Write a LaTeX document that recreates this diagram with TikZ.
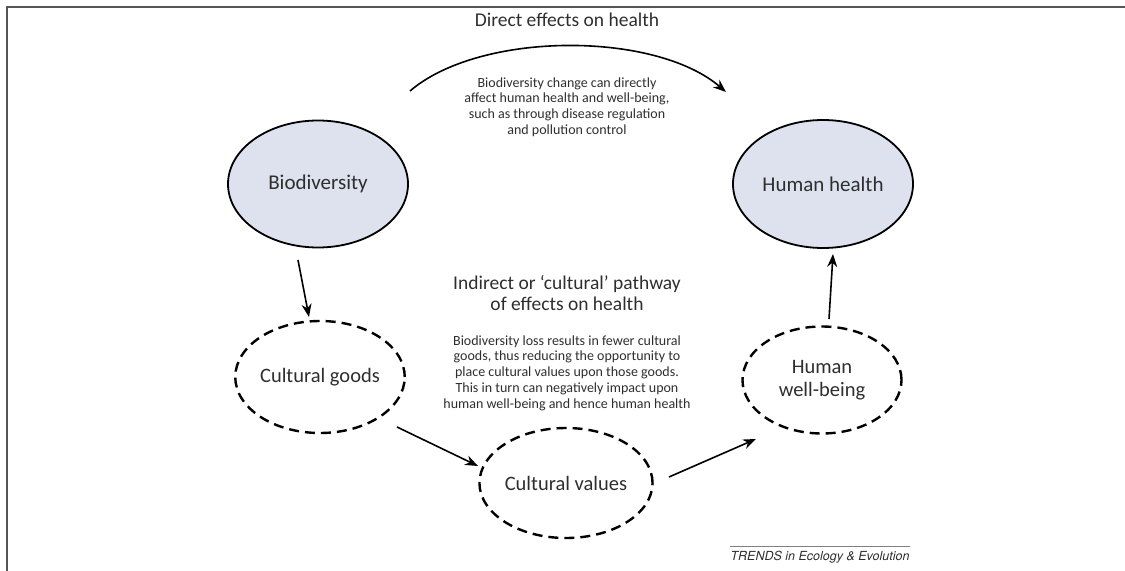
\documentclass[tikz,border=0pt]{standalone}
\usepackage{fontspec}
\setmainfont{Carlito}
\newfontfamily\trendsfont{TeX Gyre Heros}
\usetikzlibrary{arrows.meta,shapes.geometric}

\definecolor{inkgray}{HTML}{2E2E2E}
\definecolor{nodefill}{HTML}{DEE2EE}
\definecolor{framegray}{HTML}{555555}

\begin{document}
\begin{tikzpicture}[x=1bp,y=-1bp,
  solidnode/.style={ellipse, draw=black, line width=1.8bp, fill=nodefill,
    inner sep=0pt, text=inkgray, font=\fontsize{21bp}{24bp}\selectfont},
  dashnode/.style={ellipse, draw=black, line width=2.4bp,
    dash pattern=on 10bp off 6bp, inner sep=0pt, align=center,
    text=inkgray, font=\fontsize{20.5bp}{23bp}\selectfont},
  link/.style={-{Stealth[length=13bp,width=10bp]}, line width=1.6bp},
  heading/.style={align=center, text=inkgray, inner sep=0pt,
    font=\fontsize{19.5bp}{21bp}\selectfont},
  note/.style={align=center, text=inkgray, inner sep=0pt,
    font=\fontsize{14bp}{15.8bp}\selectfont}]

% page size and frame
\useasboundingbox (0,0) rectangle (1125,571);
\draw[framegray, line width=1.6bp] (7,571) -- (7,7) -- (1125,7);

% main nodes
\node[solidnode, minimum width=180bp, minimum height=127bp] (bio) at (318,184) {Biodiversity};
\node[solidnode, minimum width=180bp, minimum height=128bp] (health) at (823,184) {Human health};
\node[dashnode, minimum width=152bp, minimum height=112bp] (goods) at (320,377) {Cultural goods};
\node[dashnode, minimum width=157bp, minimum height=110bp] (values) at (566,483) {Cultural values};
\node[dashnode, minimum width=159bp, minimum height=107bp] (wellbeing) at (822,380) {Human\\well-being};

% texts
\node[heading] (title) at (567,20) {Direct effects on health};
\node[note] (direct) at (567,107) {Biodiversity change can directly\\affect human health and well-being,\\such as through disease regulation\\and pollution control};
\node[heading] (indirect) at (567,293) {Indirect or ‘cultural’ pathway\\of effects on health};
\node[note] (indirectnote) at (567,373) {Biodiversity loss results in fewer cultural\\goods, thus reducing the opportunity to\\place cultural values upon those goods.\\This in turn can negatively impact upon\\human well-being and hence human health};

% connector end points
\coordinate (arcS) at (410,91);
\coordinate (arcE) at (726,92);
\coordinate (bgS) at (298,260);
\coordinate (bgE) at (309,317);
\coordinate (gvS) at (397,427);
\coordinate (gvE) at (478,466);
\coordinate (vwS) at (669,477);
\coordinate (vwE) at (756,439);
\coordinate (whS) at (829,319);
\coordinate (whE) at (833,254);

% connectors
\draw[link] (arcS) .. controls (480,31) and (655,31) .. (arcE);
\draw[link] (bgS) -- (bgE);
\draw[link] (gvS) -- (gvE);
\draw[link] (vwS) -- (vwE);
\draw[link] (whS) -- (whE);

% journal credit
\node[inner sep=0pt, text=inkgray, font=\trendsfont\itshape\fontsize{12.5bp}{14bp}\selectfont] (credit) at (820,557) {TRENDS in Ecology \& Evolution};
\draw[gray, line width=0.8bp] (credit.north west) ++(0,-4) coordinate (ruleL) -- (credit.north east |- ruleL);
\end{tikzpicture}
\end{document}
